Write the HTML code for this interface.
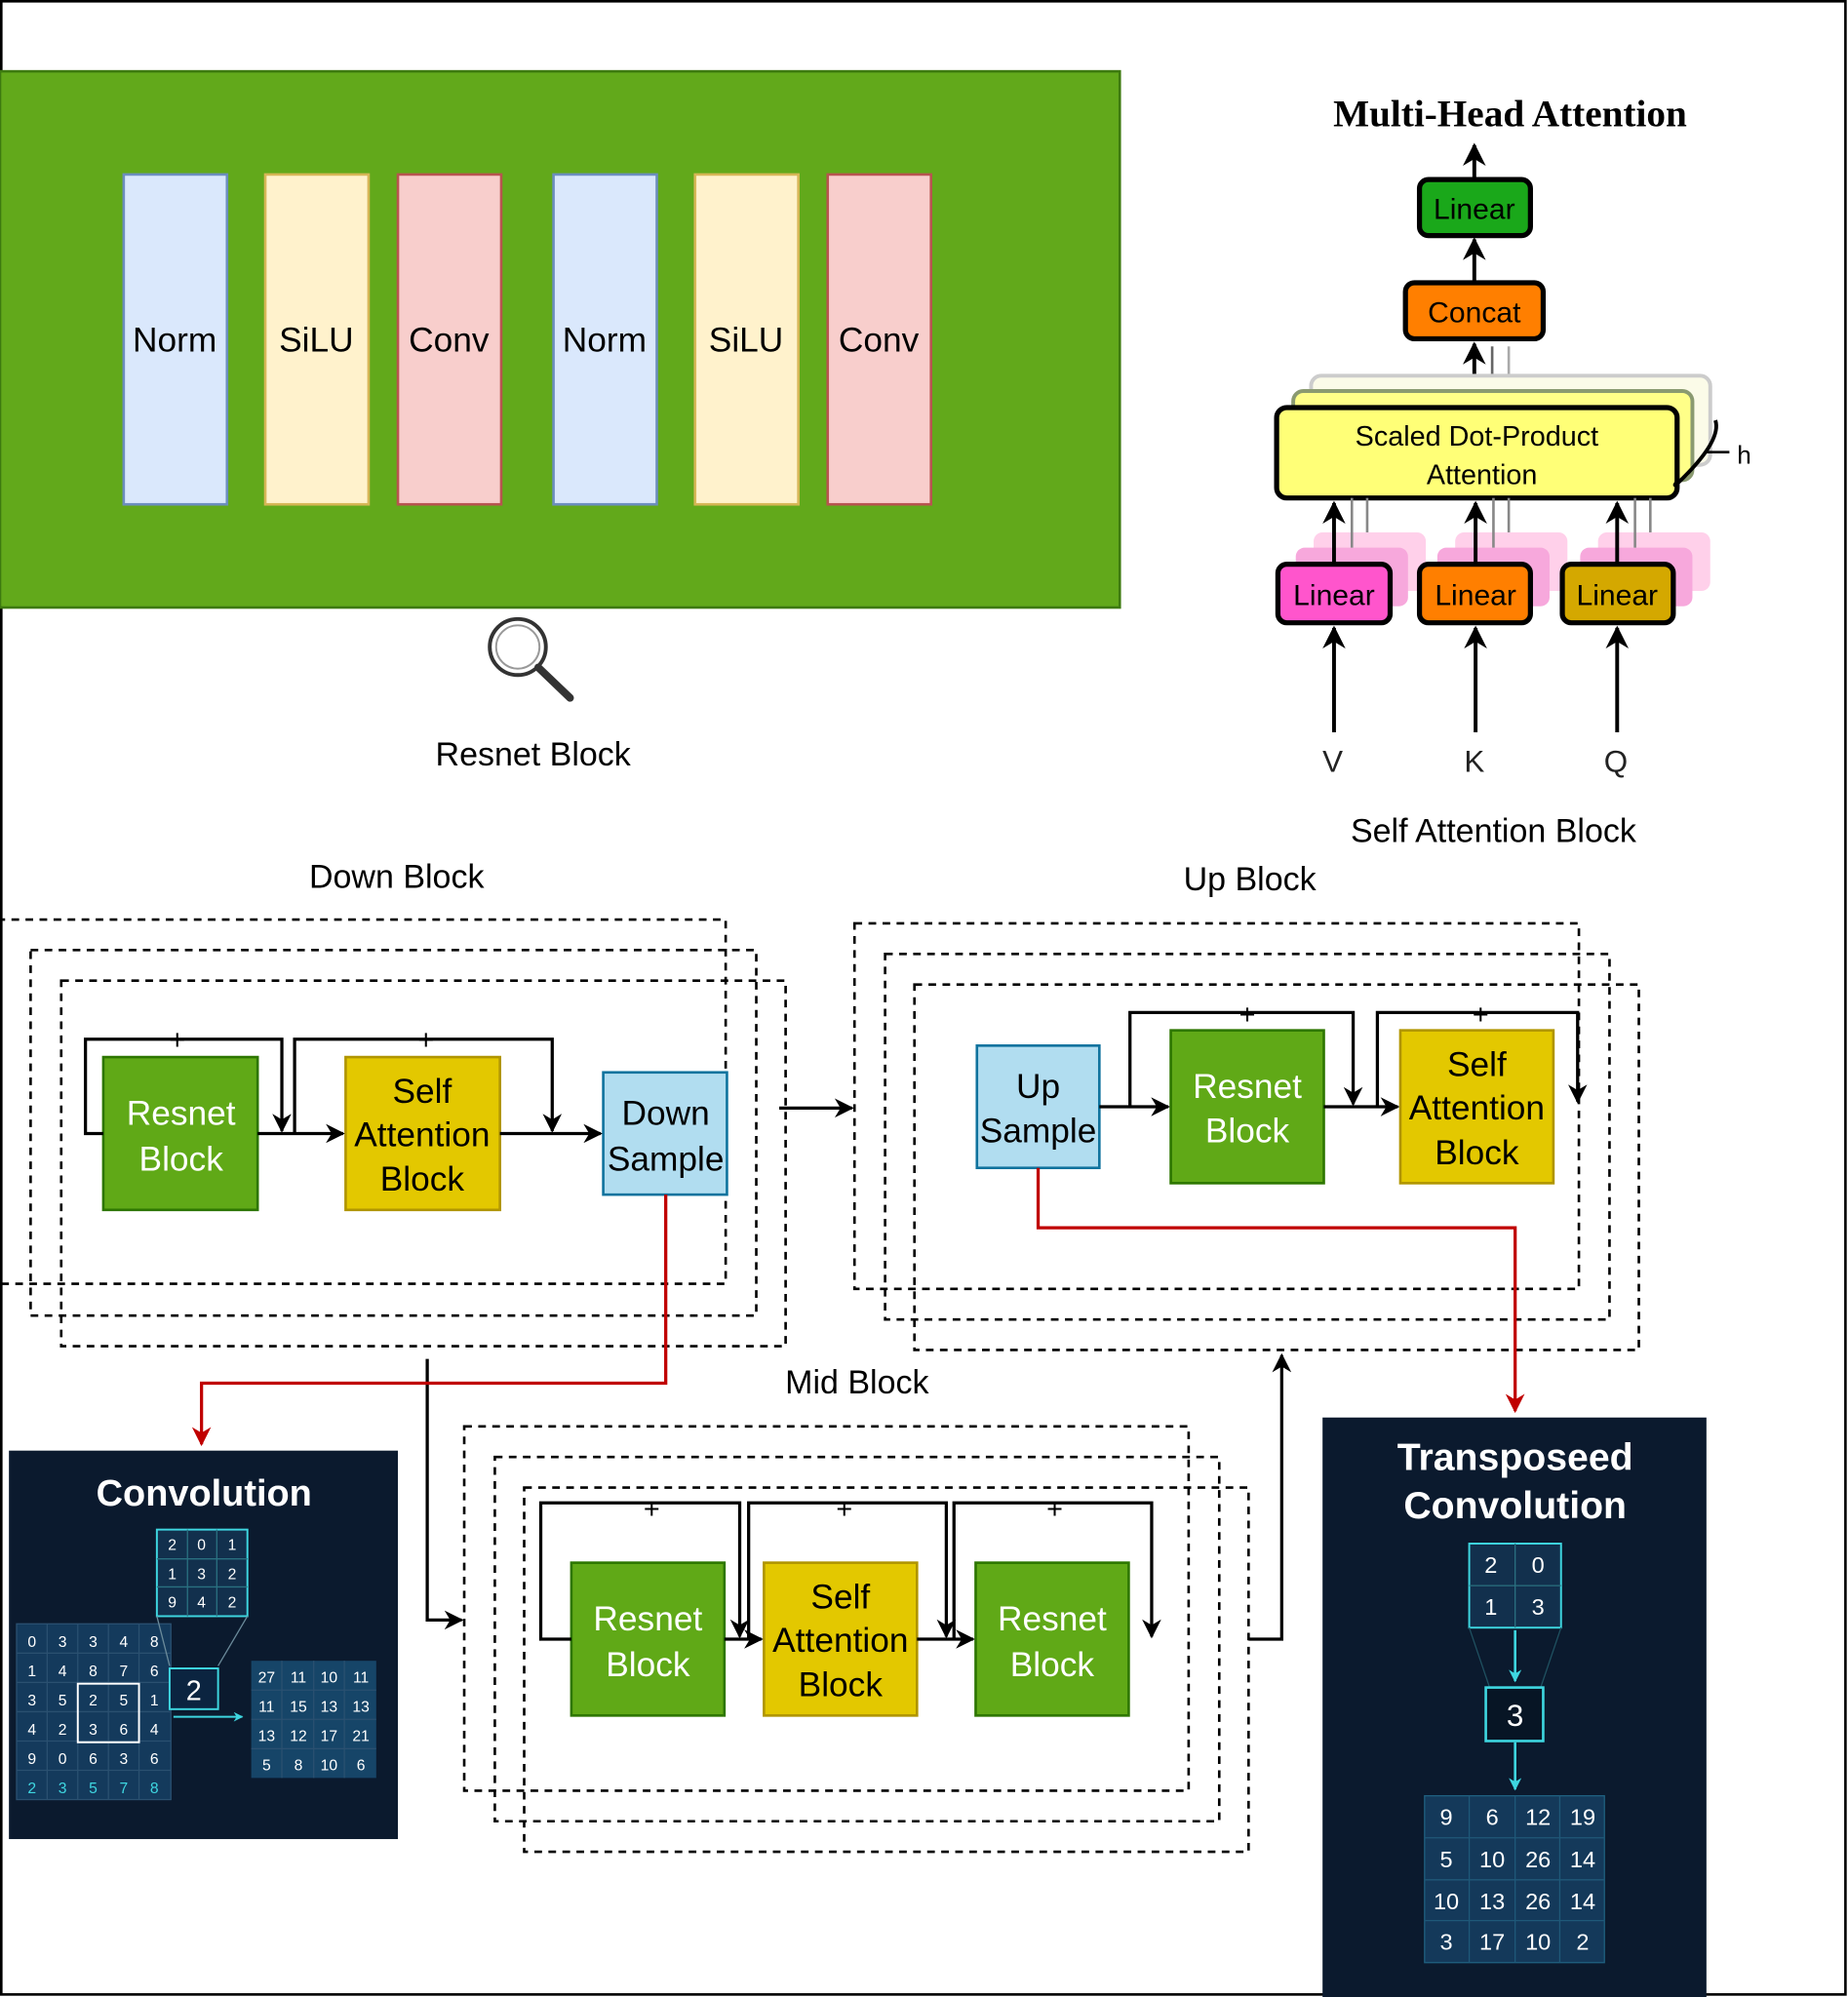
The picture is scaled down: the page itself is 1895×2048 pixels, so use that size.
<!DOCTYPE html>
<html><head><meta charset="utf-8"><style>html,body{margin:0;padding:0;background:#fff}svg{display:block}</style></head>
<body>
<svg width="1895" height="2048" viewBox="0 0 1449 1568" preserveAspectRatio="none" xmlns="http://www.w3.org/2000/svg" font-family="Liberation Sans, sans-serif">
<defs>
<marker id="a" viewBox="0 0 10 10" refX="9" refY="5" markerWidth="6" markerHeight="6" orient="auto"><path d="M0,0 L10,5 L0,10 L3,5z" fill="#000"/></marker>
<marker id="r" viewBox="0 0 10 10" refX="9" refY="5" markerWidth="6" markerHeight="6" orient="auto"><path d="M0,0 L10,5 L0,10 L3,5z" fill="#c00000"/></marker>
<marker id="c" viewBox="0 0 10 10" refX="9" refY="5" markerWidth="5" markerHeight="5" orient="auto"><path d="M0,0 L10,5 L0,10 L3,5z" fill="#3ed6e0"/></marker>
</defs>
<rect x="1" y="1" width="1446" height="1565" fill="#fff" stroke="#000" stroke-width="2"/>
<!-- Resnet block panel -->
<rect x="0" y="56" width="878" height="421" fill="#62a91b" stroke="#3d7a10" stroke-width="2"/>
<g font-size="27" text-anchor="middle" stroke-width="2">
<rect x="97" y="137" width="81" height="259" fill="#dae8fc" stroke="#6c8ebf"/><text x="137" y="276">Norm</text>
<rect x="208" y="137" width="81" height="259" fill="#fff2cc" stroke="#d6b656"/><text x="248" y="276">SiLU</text>
<rect x="312" y="137" width="81" height="259" fill="#f8cecc" stroke="#b85450"/><text x="352" y="276">Conv</text>
<rect x="434" y="137" width="81" height="259" fill="#dae8fc" stroke="#6c8ebf"/><text x="474" y="276">Norm</text>
<rect x="545" y="137" width="81" height="259" fill="#fff2cc" stroke="#d6b656"/><text x="585" y="276">SiLU</text>
<rect x="649" y="137" width="81" height="259" fill="#f8cecc" stroke="#b85450"/><text x="689" y="276">Conv</text>
</g>
<circle cx="406" cy="508" r="22" fill="#fff" stroke="#333" stroke-width="3"/><circle cx="406" cy="508" r="17" fill="none" stroke="#999" stroke-width="1.5"/>
<line x1="422" y1="524" x2="447" y2="548" stroke="#333" stroke-width="6" stroke-linecap="round"/>
<text x="418" y="601" font-size="26" text-anchor="middle">Resnet Block</text>
<!-- Multi-head attention -->
<text x="1184" y="99" font-family="Liberation Serif, serif" font-weight="bold" font-size="30" text-anchor="middle">Multi-Head Attention</text>
<g stroke="#000" stroke-width="3" fill="none">
<line x1="1156" y1="141" x2="1156" y2="114" marker-end="url(#a)"/>
<line x1="1156" y1="222" x2="1156" y2="188" marker-end="url(#a)"/>
<line x1="1156" y1="320" x2="1156" y2="270" marker-end="url(#a)"/>
</g>
<line x1="1170" y1="320" x2="1170" y2="272" stroke="#666" stroke-width="2"/>
<line x1="1183" y1="300" x2="1183" y2="272" stroke="#aaa" stroke-width="2"/>
<rect x="1028" y="295" width="313" height="70" rx="8" fill="#fbfbe8" stroke="#ccc" stroke-width="3"/>
<rect x="1014" y="307" width="313" height="70" rx="8" fill="#ffff88" stroke="#8a9a70" stroke-width="3"/>
<rect x="1113" y="141" width="87" height="44" rx="7" fill="#1aa81a" stroke="#000" stroke-width="4"/>
<text x="1156" y="172" font-size="23" text-anchor="middle">Linear</text>
<rect x="1102" y="222" width="108" height="44" rx="7" fill="#ff7f00" stroke="#000" stroke-width="4"/>
<text x="1156" y="253" font-size="23" text-anchor="middle">Concat</text>
<rect x="1001" y="320" width="314" height="71" rx="8" fill="#ffff77" stroke="#000" stroke-width="4"/>
<text x="1158" y="350" font-size="22" text-anchor="middle">Scaled Dot-Product</text>
<text x="1162" y="380" font-size="22" text-anchor="middle">Attention</text>
<path d="M1345,330 Q1350,345 1320,375 M1320,375 Q1310,385 1315,378" fill="none" stroke="#000" stroke-width="3"/>
<line x1="1338" y1="355" x2="1356" y2="355" stroke="#000" stroke-width="2"/>
<text x="1362" y="364" font-size="20">h</text>
<g>
<rect x="1030" y="418" width="88" height="46" rx="7" fill="#ffd0ea"/><rect x="1016" y="430" width="88" height="46" rx="7" fill="#f7a8dc"/>
<rect x="1141" y="418" width="88" height="46" rx="7" fill="#ffd0ea"/><rect x="1127" y="430" width="88" height="46" rx="7" fill="#f7a8dc"/>
<rect x="1253" y="418" width="88" height="46" rx="7" fill="#ffd0ea"/><rect x="1239" y="430" width="88" height="46" rx="7" fill="#f7a8dc"/>
</g>
<g stroke="#888" stroke-width="2"><line x1="1060" y1="391" x2="1060" y2="430"/><line x1="1072" y1="391" x2="1072" y2="418"/><line x1="1171" y1="391" x2="1171" y2="430"/><line x1="1183" y1="391" x2="1183" y2="418"/><line x1="1282" y1="391" x2="1282" y2="430"/><line x1="1294" y1="391" x2="1294" y2="418"/></g>
<rect x="1002" y="443" width="88" height="46" rx="7" fill="#ff55cc" stroke="#000" stroke-width="4"/>
<rect x="1113" y="443" width="87" height="46" rx="7" fill="#ff7f00" stroke="#000" stroke-width="4"/>
<rect x="1225" y="443" width="87" height="46" rx="7" fill="#d4a800" stroke="#000" stroke-width="4"/>
<g font-size="23" text-anchor="middle"><text x="1046" y="475">Linear</text><text x="1157" y="475">Linear</text><text x="1268" y="475">Linear</text></g>
<g stroke="#000" stroke-width="3">
<line x1="1046" y1="443" x2="1046" y2="395" marker-end="url(#a)"/><line x1="1157" y1="443" x2="1157" y2="395" marker-end="url(#a)"/><line x1="1268" y1="443" x2="1268" y2="395" marker-end="url(#a)"/>
<line x1="1046" y1="575" x2="1046" y2="493" marker-end="url(#a)"/><line x1="1157" y1="575" x2="1157" y2="493" marker-end="url(#a)"/><line x1="1268" y1="575" x2="1268" y2="493" marker-end="url(#a)"/>
</g>
<g font-size="24" text-anchor="middle" fill="#222"><text x="1045" y="606">V</text><text x="1156" y="606">K</text><text x="1267" y="606">Q</text></g>
<text x="1171" y="661" font-size="26" text-anchor="middle">Self Attention Block</text>
<!-- Down block -->
<text x="311" y="697" font-size="26" text-anchor="middle">Down Block</text>
<g fill="none" stroke="#000" stroke-width="2" stroke-dasharray="6,5">
<rect x="-2" y="722" width="571" height="286"/><rect x="24" y="746" width="569" height="287"/><rect x="48" y="770" width="568" height="287"/>
<rect x="670" y="725" width="568" height="287"/><rect x="694" y="749" width="568" height="287"/><rect x="717" y="773" width="568" height="287"/>
<rect x="364" y="1120" width="568" height="286"/><rect x="388" y="1144" width="568" height="286"/><rect x="411" y="1168" width="568" height="286"/>
</g>
<g font-size="27" text-anchor="middle" stroke-width="2">
<rect x="81" y="830" width="121" height="120" fill="#60a917" stroke="#2d7600"/><text x="142" y="883" fill="#fff">Resnet</text><text x="142" y="919" fill="#fff">Block</text>
<rect x="271" y="830" width="121" height="120" fill="#e3c800" stroke="#b09500"/><text x="331" y="866">Self</text><text x="331" y="900">Attention</text><text x="331" y="935">Block</text>
<rect x="473" y="842" width="97" height="96" fill="#b1ddf0" stroke="#10739e"/><text x="522" y="883">Down</text><text x="522" y="919">Sample</text>
<rect x="766" y="821" width="96" height="96" fill="#b1ddf0" stroke="#10739e"/><text x="814" y="862">Up</text><text x="814" y="897">Sample</text>
<rect x="918" y="809" width="120" height="120" fill="#60a917" stroke="#2d7600"/><text x="978" y="862" fill="#fff">Resnet</text><text x="978" y="897" fill="#fff">Block</text>
<rect x="1098" y="809" width="120" height="120" fill="#e3c800" stroke="#b09500"/><text x="1158" y="845">Self</text><text x="1158" y="879">Attention</text><text x="1158" y="914">Block</text>
<rect x="448" y="1227" width="120" height="120" fill="#60a917" stroke="#2d7600"/><text x="508" y="1280" fill="#fff">Resnet</text><text x="508" y="1316" fill="#fff">Block</text>
<rect x="599" y="1227" width="120" height="120" fill="#e3c800" stroke="#b09500"/><text x="659" y="1263">Self</text><text x="659" y="1297">Attention</text><text x="659" y="1332">Block</text>
<rect x="765" y="1227" width="120" height="120" fill="#60a917" stroke="#2d7600"/><text x="825" y="1280" fill="#fff">Resnet</text><text x="825" y="1316" fill="#fff">Block</text>
</g>
<g fill="none" stroke="#000" stroke-width="2.5">
<path d="M81,890 H67 V816 H221 V888" marker-end="url(#a)"/>
<path d="M231,890 V816 H433 V888" marker-end="url(#a)"/>
<line x1="202" y1="890" x2="269" y2="890" marker-end="url(#a)"/>
<line x1="392" y1="890" x2="471" y2="890" marker-end="url(#a)"/>
<line x1="611" y1="870" x2="668" y2="870" marker-end="url(#a)"/>
<path d="M886,869 V795 H1061 V867" marker-end="url(#a)"/>
<path d="M1080,869 V795 H1237 V865" marker-end="url(#a)"/>
<line x1="862" y1="869" x2="916" y2="869" marker-end="url(#a)"/>
<line x1="1038" y1="869" x2="1096" y2="869" marker-end="url(#a)"/>
<path d="M335,1067 V1272 H362" marker-end="url(#a)"/>
<path d="M979,1287 H1005 V1064" marker-end="url(#a)"/>
<path d="M448,1287 H424 V1180 H580 V1285" marker-end="url(#a)"/>
<path d="M587,1287 V1180 H742 V1285" marker-end="url(#a)"/>
<path d="M748,1287 V1180 H903 V1285" marker-end="url(#a)"/>
<line x1="568" y1="1287" x2="597" y2="1287" marker-end="url(#a)"/>
<line x1="719" y1="1287" x2="763" y2="1287" marker-end="url(#a)"/>
</g>
<g font-size="22" text-anchor="middle"><text x="139" y="824">+</text><text x="334" y="824">+</text><text x="978" y="804">+</text><text x="1161" y="804">+</text><text x="511" y="1192">+</text><text x="662" y="1192">+</text><text x="827" y="1192">+</text></g>
<text x="980" y="699" font-size="26" text-anchor="middle">Up Block</text>
<text x="672" y="1094" font-size="26" text-anchor="middle">Mid Block</text>
<g fill="none" stroke="#c00000" stroke-width="2.5">
<path d="M522,938 V1086 H158 V1134" marker-end="url(#r)"/>
<path d="M814,917 V964 H1188 V1108" marker-end="url(#r)"/>
</g>
<!-- Convolution panel -->
<rect x="7" y="1139" width="305" height="305" fill="#0b1a2e"/>
<text x="160" y="1182" font-size="29" font-weight="bold" fill="#fff" text-anchor="middle">Convolution</text>
<g font-size="12" fill="#fff" text-anchor="middle">
<rect x="123" y="1201" width="71" height="68" fill="#12304d" stroke="#3ed6e0" stroke-width="1.5"/>
<path d="M147,1201V1269M170,1201V1269M123,1224H194M123,1246H194" stroke="#2a7080"/>
<text x="135" y="1217">2</text><text x="158" y="1217">0</text><text x="182" y="1217">1</text>
<text x="135" y="1240">1</text><text x="158" y="1240">3</text><text x="182" y="1240">2</text>
<text x="135" y="1262">9</text><text x="158" y="1262">4</text><text x="182" y="1262">2</text>
<rect x="13" y="1275" width="121" height="138" fill="#143a5c" stroke="#2a5070"/>
<path d="M37,1275V1413M61,1275V1413M85,1275V1413M109,1275V1413M13,1298H134M13,1321H134M13,1344H134M13,1367H134M13,1390H134" stroke="#2a5070"/>
<text x="25" y="1293">0</text><text x="49" y="1293">3</text><text x="73" y="1293">3</text><text x="97" y="1293">4</text><text x="121" y="1293">8</text>
<text x="25" y="1316">1</text><text x="49" y="1316">4</text><text x="73" y="1316">8</text><text x="97" y="1316">7</text><text x="121" y="1316">6</text>
<text x="25" y="1339">3</text><text x="49" y="1339">5</text><text x="73" y="1339">2</text><text x="97" y="1339">5</text><text x="121" y="1339">1</text>
<text x="25" y="1362">4</text><text x="49" y="1362">2</text><text x="73" y="1362">3</text><text x="97" y="1362">6</text><text x="121" y="1362">4</text>
<text x="25" y="1385">9</text><text x="49" y="1385">0</text><text x="73" y="1385">6</text><text x="97" y="1385">3</text><text x="121" y="1385">6</text>
<g fill="#3ed6e0"><text x="25" y="1408">2</text><text x="49" y="1408">3</text><text x="73" y="1408">5</text><text x="97" y="1408">7</text><text x="121" y="1408">8</text></g>
<rect x="61" y="1322" width="48" height="46" fill="none" stroke="#fff" stroke-width="1.5"/>
<path d="M123,1269 L133,1308 M194,1269 L171,1308" stroke="#6a8a9a"/>
<rect x="133" y="1310" width="38" height="32" fill="#0b2440" stroke="#3ed6e0" stroke-width="1.5"/>
<text x="152" y="1335" font-size="22">2</text>
<line x1="136" y1="1348" x2="190" y2="1348" stroke="#3ed6e0" stroke-width="1.5" marker-end="url(#c)"/>
<rect x="197" y="1304" width="98" height="92" fill="#164568"/>
<path d="M221,1304V1396M246,1304V1396M270,1304V1396M197,1327H295M197,1350H295M197,1373H295" stroke="#2a5070"/>
<text x="209" y="1321">27</text><text x="234" y="1321">11</text><text x="258" y="1321">10</text><text x="283" y="1321">11</text>
<text x="209" y="1344">11</text><text x="234" y="1344">15</text><text x="258" y="1344">13</text><text x="283" y="1344">13</text>
<text x="209" y="1367">13</text><text x="234" y="1367">12</text><text x="258" y="1367">17</text><text x="283" y="1367">21</text>
<text x="209" y="1390">5</text><text x="234" y="1390">8</text><text x="258" y="1390">10</text><text x="283" y="1390">6</text>
</g>
<!-- Transposed -->
<rect x="1037" y="1113" width="301" height="455" fill="#0b1a2e"/>
<g font-weight="bold" font-size="30" fill="#fff" text-anchor="middle"><text x="1188" y="1154">Transposeed</text><text x="1188" y="1192">Convolution</text></g>
<g font-size="18" fill="#fff" text-anchor="middle">
<rect x="1152" y="1212" width="72" height="66" fill="#12304d" stroke="#3ed6e0" stroke-width="1.5"/>
<path d="M1188,1212V1278M1152,1245H1224" stroke="#2a7080"/>
<text x="1169" y="1235">2</text><text x="1206" y="1235">0</text><text x="1169" y="1268">1</text><text x="1206" y="1268">3</text>
<path d="M1152,1278 L1168,1325 M1224,1278 L1208,1325" stroke="#1f5060"/>
<line x1="1188" y1="1280" x2="1188" y2="1320" stroke="#3ed6e0" stroke-width="2" marker-end="url(#c)"/>
<rect x="1165" y="1325" width="45" height="42" fill="#071525" stroke="#3ed6e0" stroke-width="2"/>
<text x="1188" y="1355" font-size="24">3</text>
<line x1="1188" y1="1368" x2="1188" y2="1405" stroke="#3ed6e0" stroke-width="2" marker-end="url(#c)"/>
<rect x="1117" y="1410" width="141" height="131" fill="#14395a" stroke="#1f6080"/>
<path d="M1152,1410V1541M1188,1410V1541M1223,1410V1541M1117,1443H1258M1117,1476H1258M1117,1508H1258" stroke="#1f5878"/>
<text x="1134" y="1433">9</text><text x="1170" y="1433">6</text><text x="1206" y="1433">12</text><text x="1241" y="1433">19</text>
<text x="1134" y="1466">5</text><text x="1170" y="1466">10</text><text x="1206" y="1466">26</text><text x="1241" y="1466">14</text>
<text x="1134" y="1499">10</text><text x="1170" y="1499">13</text><text x="1206" y="1499">26</text><text x="1241" y="1499">14</text>
<text x="1134" y="1531">3</text><text x="1170" y="1531">17</text><text x="1206" y="1531">10</text><text x="1241" y="1531">2</text>
</g>
</svg>
</body></html>
